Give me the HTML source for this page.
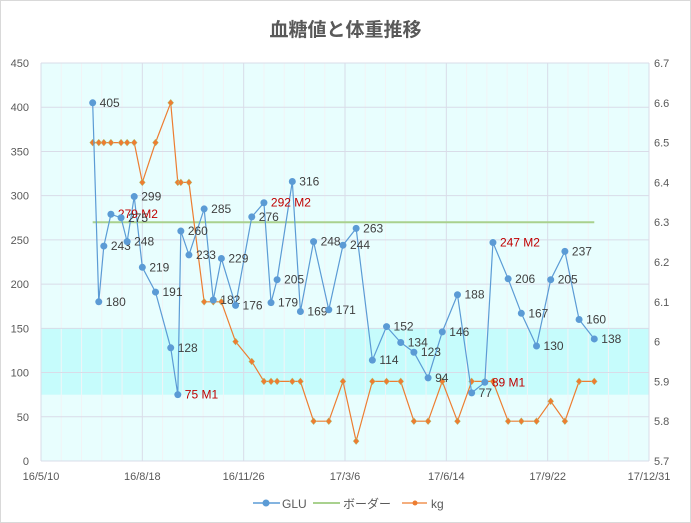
<!DOCTYPE html>
<html><head><meta charset="utf-8">
<style>
html,body{margin:0;padding:0;background:#fff;}
svg{display:block;font-family:"Liberation Sans","Noto Sans CJK JP",sans-serif;}
</style></head>
<body>
<svg id="chart" width="691" height="523">
<rect x="0.5" y="0.5" width="690" height="522" fill="#fff" stroke="#d9d9d9"/>
<text x="345.5" y="36" text-anchor="middle" font-size="19" font-weight="bold" fill="#595959">血糖値と体重推移</text>
<g id="plot"></g>
<g>
<g><line x1="253" y1="503" x2="280" y2="503" stroke="#5b9bd5" stroke-width="1.5"/><circle cx="266" cy="503" r="3.5" fill="#5b9bd5"/><text x="282" y="508" font-size="12" fill="#595959">GLU</text></g>
<g><line x1="313" y1="503" x2="340" y2="503" stroke="#a9d18e" stroke-width="2"/><text x="343" y="508" font-size="12" fill="#595959">ボーダー</text></g>
<g><line x1="402" y1="503" x2="427" y2="503" stroke="#ed7d31" stroke-width="1.2"/><circle cx="415" cy="503" r="2.5" fill="#ed7d31"/><text x="431" y="508" font-size="12" fill="#595959">kg</text></g>
</g>
</svg>
<script>
const xTickLabels = ["16/5/10","16/8/18","16/11/26","17/3/6","17/6/14","17/9/22","17/12/31"];
const yTicks = [0,50,100,150,200,250,300,350,400,450];
const y2Ticks = ["5.7","5.8","5.9","6","6.1","6.2","6.3","6.4","6.5","6.6","6.7"];
const days = [51,57,62,69,79,85,92,100,113,128,135,138,146,161,170,178,192,208,220,227,233,248,256,269,284,298,311,327,341,355,368,382,396,411,425,438,446,461,474,489,503,517,531,546];
const glu = [405,180,243,279,275,248,299,219,191,128,75,260,233,285,182,229,176,276,292,179,205,316,169,248,171,244,263,114,152,134,123,94,146,188,77,89,247,206,167,130,205,237,160,138];
const notes = {3:"M2",10:"M1",18:"M2",35:"M1",36:"M2"};
const kg = [6.5,6.5,6.5,6.5,6.5,6.5,6.5,6.4,6.5,6.6,6.4,6.4,6.4,6.1,6.1,6.1,6.0,5.95,5.9,5.9,5.9,5.9,5.9,5.8,5.8,5.9,5.75,5.9,5.9,5.9,5.8,5.8,5.9,5.8,5.9,5.9,5.9,5.8,5.8,5.8,5.85,5.8,5.9,5.9];
const borderValue = 270;
const bandRange = [75,150];

const NS="http://www.w3.org/2000/svg";
const L=41,R=649,T=63,B=461;
const xs=d=>L+d*(R-L)/600;
const ys=v=>B-v*(B-T)/450;
const ys2=v=>B-(v-5.7)*(B-T)/1.0;
const g=document.getElementById('plot');
function mk(tag,attrs,parent){const e=document.createElementNS(NS,tag);for(const k in attrs)e.setAttribute(k,attrs[k]);(parent||g).appendChild(e);return e;}

const bg=mk('rect',{x:L,y:T,width:R-L,height:B-T,fill:'#e8fefe'});


const band=mk('rect',{x:L,y:ys(bandRange[1]),width:R-L,height:ys(bandRange[0])-ys(bandRange[1]),fill:'#c6fcfc'});


for(let d=0;d<=600;d+=20){
  const gl=mk('line',{x1:xs(d),x2:xs(d),y1:T,y2:B,stroke:d%100===0?'#d9dce8':'#f2f3f6','stroke-width':1});
  
  
}
yTicks.forEach(v=>{
  const gl=mk('line',{x1:L,x2:R,y1:ys(v),y2:ys(v),stroke:'#d9dce8','stroke-width':1});
  
  
  const t=mk('text',{x:L-12,y:ys(v)+4,'text-anchor':'end','font-size':11,fill:'#595959'});
  t.textContent=v;
  
  
});
y2Ticks.forEach(s=>{
  const t=mk('text',{x:R+5,y:ys2(parseFloat(s))+4,'font-size':11,fill:'#595959'});
  t.textContent=s;
  
  
});
xTickLabels.forEach((s,i)=>{
  const t=mk('text',{x:xs(i*100),y:480,'text-anchor':'middle','font-size':11,fill:'#595959'});
  t.textContent=s;
  
  
});
const bl=mk('line',{x1:xs(days[0]),x2:xs(days[days.length-1]),y1:ys(borderValue),y2:ys(borderValue),stroke:'#a9d18e','stroke-width':2});


const kgl=mk('polyline',{points:days.map((d,i)=>xs(d)+','+ys2(kg[i])).join(' '),fill:'none',stroke:'#ed7d31','stroke-width':1.2});


days.forEach((d,i)=>{
  const p=mk('path',{d:`M${xs(d)},${ys2(kg[i])-3.5}l3,3.5l-3,3.5l-3,-3.5z`,fill:'#ed7d31',stroke:'#a9d18e','stroke-width':0.5});
  
  
});
const gll=mk('polyline',{points:days.map((d,i)=>xs(d)+','+ys(glu[i])).join(' '),fill:'none',stroke:'#5b9bd5','stroke-width':1.2});


days.forEach((d,i)=>{
  const c=mk('circle',{cx:xs(d),cy:ys(glu[i]),r:3.5,fill:'#5b9bd5'});
  
  
  const n=notes[i];
  const t=mk('text',{x:xs(d)+7,y:ys(glu[i])+4,'font-size':12,fill:n?'#c00000':'#404040'});
  t.textContent=glu[i]+(n?' '+n:'');
  
  
});
</script>
</body></html>
